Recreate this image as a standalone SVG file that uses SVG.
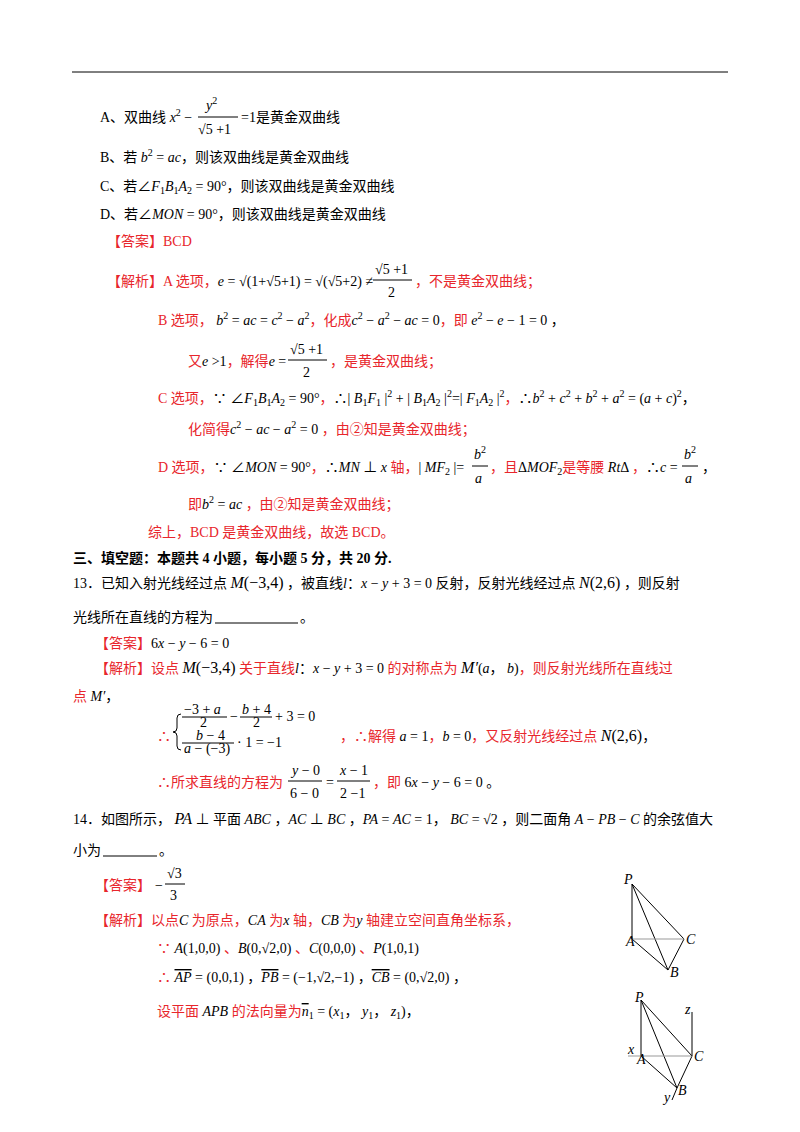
<svg xmlns="http://www.w3.org/2000/svg" width="800" height="1132" viewBox="0 0 800 1132">
<style>
text{font-family:"Liberation Serif","Noto Sans CJK SC",serif;font-size:14px;fill:#000}
.r{fill:#e8262c}
.m{font-style:italic}
.s{font-size:10px}
.b{font-weight:bold}
.o{text-decoration:overline}
line,path,polyline{stroke:#000;fill:none;stroke-width:1}
.g{stroke:#999}
</style>
<rect width="800" height="1132" fill="#fff"/>
<line x1="72" y1="72" x2="728" y2="72" stroke-width="1.5"/>
<g id="optA"><text x="100" y="122">A、双曲线 <tspan class="m">x</tspan><tspan class="s" dy="-6">2</tspan><tspan dy="6"> −</tspan></text>
<text x="206" y="110" class="m">y<tspan class="s" dy="-6" font-style="normal">2</tspan></text>
<line x1="198" y1="117" x2="238" y2="117"/>
<text x="198" y="134">√5 +1</text>
<text x="241" y="122">=1是黄金双曲线</text></g>
<text x="100" y="162">B、若 <tspan class="m">b</tspan><tspan class="s" dy="-6">2</tspan><tspan dy="6"> = </tspan><tspan class="m">ac</tspan>，则该双曲线是黄金双曲线</text>
<text x="100" y="191">C、若∠<tspan class="m">F</tspan><tspan class="s" dy="3">1</tspan><tspan class="m" dy="-3">B</tspan><tspan class="s" dy="3">1</tspan><tspan class="m" dy="-3">A</tspan><tspan class="s" dy="3">2</tspan><tspan dy="-3"> = 90°，则该双曲线是黄金双曲线</tspan></text>
<text x="100" y="219">D、若∠<tspan class="m">MON</tspan> = 90°，则该双曲线是黄金双曲线</text>
<text x="107" y="246" class="r">【答案】BCD</text>
<g id="jx">
<text x="107" y="286"><tspan class="r">【解析】A 选项，</tspan><tspan class="m">e</tspan> = √(1+√5+1) = √(√5+2) ≠</text>
<text x="375" y="274">√5 +1</text><line x1="373" y1="280" x2="412" y2="280"/><text x="388" y="297">2</text>
<text x="415" y="286" class="r">，不是黄金双曲线；</text>
<text x="158" y="325"><tspan class="r">B 选项，</tspan> <tspan class="m">b</tspan><tspan class="s" dy="-6">2</tspan><tspan dy="6"> = </tspan><tspan class="m">ac</tspan> = <tspan class="m">c</tspan><tspan class="s" dy="-6">2</tspan><tspan dy="6"> − </tspan><tspan class="m">a</tspan><tspan class="s" dy="-6">2</tspan><tspan dy="6" class="r">，化成</tspan><tspan class="m">c</tspan><tspan class="s" dy="-6">2</tspan><tspan dy="6"> − </tspan><tspan class="m">a</tspan><tspan class="s" dy="-6">2</tspan><tspan dy="6"> − </tspan><tspan class="m">ac</tspan> = 0<tspan class="r">，即 </tspan><tspan class="m">e</tspan><tspan class="s" dy="-6">2</tspan><tspan dy="6"> − </tspan><tspan class="m">e</tspan> − 1 = 0 ，</text>
<text x="188" y="366"><tspan class="r">又</tspan><tspan class="m">e</tspan> &gt;1<tspan class="r">，解得</tspan><tspan class="m">e</tspan> =</text>
<text x="290" y="354">√5 +1</text><line x1="288" y1="360" x2="327" y2="360"/><text x="303" y="377">2</text>
<text x="330" y="366" class="r">，是黄金双曲线；</text>
<text x="158" y="403"><tspan class="r">C 选项，</tspan>∵ ∠<tspan class="m">F</tspan><tspan class="s" dy="3">1</tspan><tspan class="m" dy="-3">B</tspan><tspan class="s" dy="3">1</tspan><tspan class="m" dy="-3">A</tspan><tspan class="s" dy="3">2</tspan><tspan dy="-3"> = 90°</tspan><tspan class="r">，</tspan>∴| <tspan class="m">B</tspan><tspan class="s" dy="3">1</tspan><tspan class="m" dy="-3">F</tspan><tspan class="s" dy="3">1</tspan><tspan dy="-3"> |</tspan><tspan class="s" dy="-6">2</tspan><tspan dy="6"> + | </tspan><tspan class="m">B</tspan><tspan class="s" dy="3">1</tspan><tspan class="m" dy="-3">A</tspan><tspan class="s" dy="3">2</tspan><tspan dy="-3"> |</tspan><tspan class="s" dy="-6">2</tspan><tspan dy="6">=| </tspan><tspan class="m">F</tspan><tspan class="s" dy="3">1</tspan><tspan class="m" dy="-3">A</tspan><tspan class="s" dy="3">2</tspan><tspan dy="-3"> |</tspan><tspan class="s" dy="-6">2</tspan><tspan dy="6" class="r">，</tspan>∴<tspan class="m">b</tspan><tspan class="s" dy="-6">2</tspan><tspan dy="6"> + </tspan><tspan class="m">c</tspan><tspan class="s" dy="-6">2</tspan><tspan dy="6"> + </tspan><tspan class="m">b</tspan><tspan class="s" dy="-6">2</tspan><tspan dy="6"> + </tspan><tspan class="m">a</tspan><tspan class="s" dy="-6">2</tspan><tspan dy="6"> = (</tspan><tspan class="m">a</tspan> + <tspan class="m">c</tspan>)<tspan class="s" dy="-6">2</tspan><tspan dy="6">，</tspan></text>
<text x="188" y="434"><tspan class="r">化简得</tspan><tspan class="m">c</tspan><tspan class="s" dy="-6">2</tspan><tspan dy="6"> − </tspan><tspan class="m">ac</tspan> − <tspan class="m">a</tspan><tspan class="s" dy="-6">2</tspan><tspan dy="6"> = 0 </tspan><tspan class="r">，由②知是黄金双曲线；</tspan></text>
<text x="158" y="472"><tspan class="r">D 选项，</tspan>∵ ∠<tspan class="m">MON</tspan> = 90°<tspan class="r">，</tspan>∴<tspan class="m">MN</tspan> ⊥ <tspan class="m">x</tspan><tspan class="r"> 轴，</tspan>| <tspan class="m">MF</tspan><tspan class="s" dy="3">2</tspan><tspan dy="-3"> |=</tspan></text>
<text x="474" y="459" class="m">b<tspan class="s" dy="-6" font-style="normal">2</tspan></text><line x1="472" y1="466" x2="488" y2="466"/><text x="475" y="483" class="m">a</text>
<text x="490" y="472"><tspan class="r">，且</tspan>Δ<tspan class="m">MOF</tspan><tspan class="s" dy="3">2</tspan><tspan dy="-3" class="r">是等腰 </tspan><tspan class="m">Rt</tspan>Δ <tspan class="r">，</tspan>∴<tspan class="m">c</tspan> =</text>
<text x="684" y="459" class="m">b<tspan class="s" dy="-6" font-style="normal">2</tspan></text><line x1="682" y1="466" x2="698" y2="466"/><text x="685" y="483" class="m">a</text>
<text x="702" y="472">，</text>
<text x="188" y="509"><tspan class="r">即</tspan><tspan class="m">b</tspan><tspan class="s" dy="-6">2</tspan><tspan dy="6"> = </tspan><tspan class="m">ac</tspan><tspan class="r"> ，由②知是黄金双曲线；</tspan></text>
<text x="148" y="537" class="r">综上，BCD 是黄金双曲线，故选 BCD。</text>
</g>
<text x="73" y="563" class="b">三、填空题：本题共 4 小题，每小题 5 分，共 20 分.</text>
<g id="q13">
<text x="73" y="588">13．已知入射光线经过点 <tspan class="m" font-size="16">M</tspan><tspan font-size="16">(−3,4)</tspan> ，被直线<tspan class="m">l</tspan>：<tspan class="m">x</tspan> − <tspan class="m">y</tspan> + 3 = 0 反射，反射光线经过点 <tspan class="m" font-size="16">N</tspan><tspan font-size="16">(2,6)</tspan> ，则反射</text>
<text x="73" y="622">光线所在直线的方程为</text><line x1="215" y1="623" x2="298" y2="623"/><text x="300" y="622">。</text>
<text x="95" y="648"><tspan class="r">【答案】</tspan>6<tspan class="m">x</tspan> − <tspan class="m">y</tspan> − 6 = 0</text>
<text x="95" y="673"><tspan class="r">【解析】设点 </tspan><tspan class="m" font-size="16">M</tspan><tspan font-size="16">(−3,4)</tspan><tspan class="r"> 关于直线</tspan><tspan class="m">l</tspan>：<tspan class="m">x</tspan> − <tspan class="m">y</tspan> + 3 = 0 <tspan class="r">的对称点为 </tspan><tspan class="m" font-size="16">M′</tspan>(<tspan class="m">a</tspan>， <tspan class="m">b</tspan>)<tspan class="r">，则反射光线所在直线过</tspan></text>
<text x="73" y="701"><tspan class="r">点 </tspan><tspan class="m">M′</tspan>，</text>
<text x="157" y="741" class="r" font-size="16">∴</text>
<path d="M181,706 q-4,0 -4,4 v10 q0,4 -4,4 q4,0 4,4 v10 q0,4 4,4" transform="translate(0,8)"/>
<text x="184" y="714" font-size="10"><tspan>−3 + </tspan><tspan class="m">a</tspan></text><line x1="182" y1="717" x2="227" y2="717"/><text x="200" y="727" font-size="10">2</text>
<text x="230" y="721" font-size="10">−</text>
<text x="242" y="714" font-size="10"><tspan class="m">b</tspan> + 4</text><line x1="240" y1="717" x2="272" y2="717"/><text x="253" y="727" font-size="10">2</text>
<text x="275" y="721" font-size="10">+ 3 = 0</text>
<text x="196" y="740" font-size="10"><tspan class="m">b</tspan> − 4</text><line x1="182" y1="743" x2="234" y2="743"/><text x="184" y="753" font-size="10"><tspan class="m">a</tspan> − (−3)</text>
<text x="237" y="747" font-size="10">· 1 = −1</text>
<text x="340" y="741"><tspan class="r">，∴解得 </tspan><tspan class="m">a</tspan> = 1<tspan class="r">，</tspan><tspan class="m">b</tspan> = 0<tspan class="r">，又反射光线经过点 </tspan><tspan class="m" font-size="16">N</tspan><tspan font-size="16">(2,6)</tspan>，</text>
<text x="157" y="787"><tspan class="r">∴所求直线的方程为</tspan></text>
<text x="292" y="775"><tspan class="m">y</tspan> − 0</text><line x1="288" y1="781" x2="322" y2="781"/><text x="290" y="798">6 − 0</text>
<text x="326" y="787">=</text>
<text x="340" y="775"><tspan class="m">x</tspan> − 1</text><line x1="337" y1="781" x2="370" y2="781"/><text x="340" y="798">2 −1</text>
<text x="373" y="787"><tspan class="r">，即 </tspan>6<tspan class="m">x</tspan> − <tspan class="m">y</tspan> − 6 = 0 。</text>
</g>
<g id="q14">
<text x="73" y="824">14．如图所示， <tspan class="m" font-size="16">PA</tspan> ⊥ 平面 <tspan class="m">ABC</tspan> ，<tspan class="m">AC</tspan> ⊥ <tspan class="m">BC</tspan> ，<tspan class="m">PA</tspan> = <tspan class="m">AC</tspan> = 1， <tspan class="m">BC</tspan> = √2 ，则二面角 <tspan class="m">A</tspan> − <tspan class="m">PB</tspan> − <tspan class="m">C</tspan> 的余弦值大</text>
<text x="73" y="855">小为</text><line x1="103" y1="856" x2="157" y2="856"/><text x="159" y="855">。</text>
<text x="95" y="890" class="r">【答案】</text><text x="155" y="890">−</text>
<text x="167" y="878">√3</text><line x1="165" y1="884" x2="185" y2="884"/><text x="170" y="900">3</text>
<text x="95" y="925"><tspan class="r">【解析】以点</tspan><tspan class="m">C</tspan><tspan class="r"> 为原点，</tspan><tspan class="m">CA</tspan><tspan class="r"> 为</tspan><tspan class="m">x</tspan><tspan class="r"> 轴，</tspan><tspan class="m">CB</tspan><tspan class="r"> 为</tspan><tspan class="m">y</tspan><tspan class="r"> 轴建立空间直角坐标系，</tspan></text>
<text x="157" y="953" font-size="16"><tspan class="r">∵ </tspan><tspan class="m">A</tspan>(1,0,0) <tspan class="r" font-size="14">、</tspan><tspan class="m">B</tspan>(0,√2,0) <tspan class="r" font-size="14">、</tspan><tspan class="m">C</tspan>(0,0,0) <tspan class="r" font-size="14">、</tspan><tspan class="m">P</tspan>(1,0,1)</text>
<text x="157" y="982" font-size="16"><tspan class="r">∴ </tspan><tspan class="m o">AP</tspan> = (0,0,1) <tspan font-size="14">，</tspan><tspan class="m o">PB</tspan> = (−1,√2,−1) <tspan font-size="14">，</tspan><tspan class="m o">CB</tspan> = (0,√2,0) <tspan font-size="14">，</tspan></text>
<text x="157" y="1016"><tspan class="r">设平面 </tspan><tspan class="m">APB</tspan><tspan class="r"> 的法向量为</tspan><tspan class="m o">n</tspan><tspan class="s" dy="3">1</tspan><tspan dy="-3"> = (</tspan><tspan class="m">x</tspan><tspan class="s" dy="3">1</tspan><tspan dy="-3">， </tspan><tspan class="m">y</tspan><tspan class="s" dy="3">1</tspan><tspan dy="-3">， </tspan><tspan class="m">z</tspan><tspan class="s" dy="3">1</tspan><tspan dy="-3">)，</tspan></text>
</g>
<g id="fig1">
<polyline points="632,884 632,939 668,970 684,939 632,884 668,970" stroke-width="0.8"/>
<line x1="632" y1="939" x2="684" y2="939" class="g"/>
<text x="624" y="884" font-size="8" class="m">P</text><text x="626" y="946" font-size="8" class="m">A</text><text x="686" y="944" font-size="8" class="m">C</text><text x="670" y="977" font-size="8" class="m">B</text>
</g>
<g id="fig2">
<polyline points="641,1000 641,1056 677,1088 692,1056 641,1000 677,1088" stroke-width="0.8"/>
<line x1="628" y1="1056" x2="692" y2="1056" class="g"/>
<line x1="692" y1="1056" x2="692" y2="1012" stroke-width="0.8"/><line x1="677" y1="1088" x2="672" y2="1100" stroke-width="0.8"/>
<text x="635" y="1002" font-size="8" class="m">P</text><text x="637" y="1064" font-size="8" class="m">A</text><text x="694" y="1061" font-size="8" class="m">C</text><text x="678" y="1095" font-size="8" class="m">B</text>
<text x="685" y="1014" font-size="8" class="m">z</text><text x="628" y="1054" font-size="8" class="m">x</text><text x="664" y="1102" font-size="8" class="m">y</text>
</g>
</svg>
